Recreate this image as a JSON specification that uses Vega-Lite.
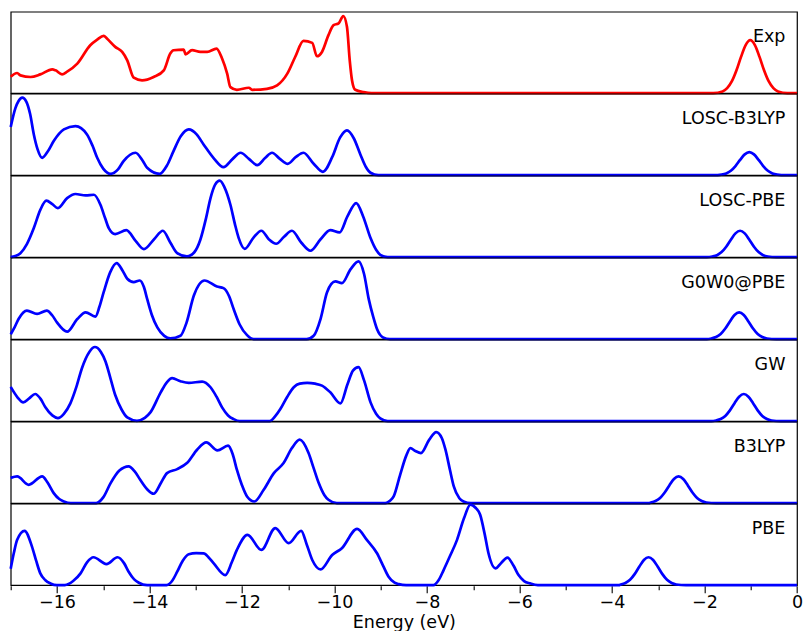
{
"$schema": "https://vega.github.io/schema/vega-lite/v6.json",
"padding": {"left": 4.7, "top": 9.7, "right": 0, "bottom": 0},
"bounds": "flush",
"config": {"view": {"stroke": "black", "strokeWidth": 1.2}, "font": "DejaVu Sans", "facet": {"spacing": 0}, "header": {"labelPadding": 0, "titlePadding": 0, "labels": false}},
"spacing": {"row": 0, "column": 0},
"data": {"values": [
{"m":"Exp","e":-17,"y":0.2},{"m":"Exp","e":-16.86,"y":0.247},{"m":"Exp","e":-16.79,"y":0.218},{"m":"Exp","e":-16.57,"y":0.198},{"m":"Exp","e":-16.36,"y":0.23},{"m":"Exp","e":-16.1,"y":0.292},{"m":"Exp","e":-16.03,"y":0.28},{"m":"Exp","e":-15.89,"y":0.23},{"m":"Exp","e":-15.78,"y":0.263},{"m":"Exp","e":-15.56,"y":0.362},{"m":"Exp","e":-15.28,"y":0.588},{"m":"Exp","e":-15.13,"y":0.658},{"m":"Exp","e":-14.99,"y":0.704},{"m":"Exp","e":-14.92,"y":0.671},{"m":"Exp","e":-14.74,"y":0.568},{"m":"Exp","e":-14.59,"y":0.506},{"m":"Exp","e":-14.48,"y":0.403},{"m":"Exp","e":-14.34,"y":0.189},{"m":"Exp","e":-14.16,"y":0.156},{"m":"Exp","e":-13.91,"y":0.198},{"m":"Exp","e":-13.69,"y":0.28},{"m":"Exp","e":-13.55,"y":0.486},{"m":"Exp","e":-13.48,"y":0.527},{"m":"Exp","e":-13.26,"y":0.535},{"m":"Exp","e":-13.22,"y":0.477},{"m":"Exp","e":-13.08,"y":0.527},{"m":"Exp","e":-12.9,"y":0.506},{"m":"Exp","e":-12.75,"y":0.506},{"m":"Exp","e":-12.55,"y":0.547},{"m":"Exp","e":-12.43,"y":0.424},{"m":"Exp","e":-12.32,"y":0.239},{"m":"Exp","e":-12.25,"y":0.074},{"m":"Exp","e":-12.11,"y":0.041},{"m":"Exp","e":-11.85,"y":0.066},{"m":"Exp","e":-11.78,"y":0.041},{"m":"Exp","e":-11.46,"y":0.053},{"m":"Exp","e":-11.24,"y":0.095},{"m":"Exp","e":-11.02,"y":0.239},{"m":"Exp","e":-10.85,"y":0.444},{"m":"Exp","e":-10.67,"y":0.642},{"m":"Exp","e":-10.48,"y":0.617},{"m":"Exp","e":-10.38,"y":0.453},{"m":"Exp","e":-10.27,"y":0.506},{"m":"Exp","e":-10.13,"y":0.712},{"m":"Exp","e":-10.02,"y":0.835},{"m":"Exp","e":-9.91,"y":0.856},{"m":"Exp","e":-9.81,"y":0.947},{"m":"Exp","e":-9.73,"y":0.815},{"m":"Exp","e":-9.67,"y":0.403},{"m":"Exp","e":-9.62,"y":0.156},{"m":"Exp","e":-9.55,"y":0.041},{"m":"Exp","e":-9.37,"y":0.012},{"m":"Exp","e":-9.2,"y":0},{"m":"Exp","e":-1.81,"y":0},{"m":"Exp","e":-1.61,"y":0.021},{"m":"Exp","e":-1.51,"y":0.061},{"m":"Exp","e":-1.41,"y":0.143},{"m":"Exp","e":-1.31,"y":0.278},{"m":"Exp","e":-1.21,"y":0.445},{"m":"Exp","e":-1.11,"y":0.59},{"m":"Exp","e":-1.01,"y":0.65},{"m":"Exp","e":-0.91,"y":0.59},{"m":"Exp","e":-0.81,"y":0.445},{"m":"Exp","e":-0.71,"y":0.278},{"m":"Exp","e":-0.61,"y":0.143},{"m":"Exp","e":-0.51,"y":0.061},{"m":"Exp","e":-0.41,"y":0.021},{"m":"Exp","e":-0.21,"y":0},{"m":"Exp","e":0,"y":0},
{"m":"LOSC-B3LYP","e":-17,"y":0.59},{"m":"LOSC-B3LYP","e":-16.9,"y":0.82},{"m":"LOSC-B3LYP","e":-16.83,"y":0.91},{"m":"LOSC-B3LYP","e":-16.75,"y":0.951},{"m":"LOSC-B3LYP","e":-16.66,"y":0.9},{"m":"LOSC-B3LYP","e":-16.58,"y":0.75},{"m":"LOSC-B3LYP","e":-16.5,"y":0.5},{"m":"LOSC-B3LYP","e":-16.42,"y":0.32},{"m":"LOSC-B3LYP","e":-16.32,"y":0.213},{"m":"LOSC-B3LYP","e":-16.2,"y":0.29},{"m":"LOSC-B3LYP","e":-16.07,"y":0.418},{"m":"LOSC-B3LYP","e":-15.85,"y":0.561},{"m":"LOSC-B3LYP","e":-15.6,"y":0.602},{"m":"LOSC-B3LYP","e":-15.35,"y":0.5},{"m":"LOSC-B3LYP","e":-15.23,"y":0.36},{"m":"LOSC-B3LYP","e":-15.13,"y":0.213},{"m":"LOSC-B3LYP","e":-15.0,"y":0.08},{"m":"LOSC-B3LYP","e":-14.84,"y":0.016},{"m":"LOSC-B3LYP","e":-14.68,"y":0.07},{"m":"LOSC-B3LYP","e":-14.56,"y":0.172},{"m":"LOSC-B3LYP","e":-14.3,"y":0.275},{"m":"LOSC-B3LYP","e":-14.15,"y":0.18},{"m":"LOSC-B3LYP","e":-14.05,"y":0.09},{"m":"LOSC-B3LYP","e":-13.78,"y":0.016},{"m":"LOSC-B3LYP","e":-13.62,"y":0.12},{"m":"LOSC-B3LYP","e":-13.48,"y":0.295},{"m":"LOSC-B3LYP","e":-13.32,"y":0.48},{"m":"LOSC-B3LYP","e":-13.15,"y":0.561},{"m":"LOSC-B3LYP","e":-12.98,"y":0.5},{"m":"LOSC-B3LYP","e":-12.83,"y":0.377},{"m":"LOSC-B3LYP","e":-12.6,"y":0.2},{"m":"LOSC-B3LYP","e":-12.4,"y":0.098},{"m":"LOSC-B3LYP","e":-12.2,"y":0.2},{"m":"LOSC-B3LYP","e":-12.03,"y":0.275},{"m":"LOSC-B3LYP","e":-11.85,"y":0.2},{"m":"LOSC-B3LYP","e":-11.67,"y":0.123},{"m":"LOSC-B3LYP","e":-11.5,"y":0.21},{"m":"LOSC-B3LYP","e":-11.35,"y":0.275},{"m":"LOSC-B3LYP","e":-11.18,"y":0.2},{"m":"LOSC-B3LYP","e":-11.01,"y":0.139},{"m":"LOSC-B3LYP","e":-10.84,"y":0.22},{"m":"LOSC-B3LYP","e":-10.67,"y":0.275},{"m":"LOSC-B3LYP","e":-10.45,"y":0.14},{"m":"LOSC-B3LYP","e":-10.25,"y":0.041},{"m":"LOSC-B3LYP","e":-10.05,"y":0.22},{"m":"LOSC-B3LYP","e":-9.88,"y":0.46},{"m":"LOSC-B3LYP","e":-9.73,"y":0.549},{"m":"LOSC-B3LYP","e":-9.58,"y":0.45},{"m":"LOSC-B3LYP","e":-9.44,"y":0.254},{"m":"LOSC-B3LYP","e":-9.32,"y":0.1},{"m":"LOSC-B3LYP","e":-9.22,"y":0.029},{"m":"LOSC-B3LYP","e":-9.05,"y":0},{"m":"LOSC-B3LYP","e":-1.8,"y":0},{"m":"LOSC-B3LYP","e":-1.63,"y":0.007},{"m":"LOSC-B3LYP","e":-1.53,"y":0.021},{"m":"LOSC-B3LYP","e":-1.43,"y":0.054},{"m":"LOSC-B3LYP","e":-1.33,"y":0.112},{"m":"LOSC-B3LYP","e":-1.23,"y":0.187},{"m":"LOSC-B3LYP","e":-1.13,"y":0.255},{"m":"LOSC-B3LYP","e":-1.03,"y":0.283},{"m":"LOSC-B3LYP","e":-0.93,"y":0.255},{"m":"LOSC-B3LYP","e":-0.83,"y":0.187},{"m":"LOSC-B3LYP","e":-0.73,"y":0.112},{"m":"LOSC-B3LYP","e":-0.63,"y":0.054},{"m":"LOSC-B3LYP","e":-0.53,"y":0.021},{"m":"LOSC-B3LYP","e":-0.43,"y":0.007},{"m":"LOSC-B3LYP","e":-0.25,"y":0},{"m":"LOSC-B3LYP","e":0,"y":0},
{"m":"LOSC-PBE","e":-17,"y":0},{"m":"LOSC-PBE","e":-16.9,"y":0.015},{"m":"LOSC-PBE","e":-16.79,"y":0.049},{"m":"LOSC-PBE","e":-16.65,"y":0.16},{"m":"LOSC-PBE","e":-16.5,"y":0.357},{"m":"LOSC-PBE","e":-16.36,"y":0.58},{"m":"LOSC-PBE","e":-16.23,"y":0.693},{"m":"LOSC-PBE","e":-16.1,"y":0.65},{"m":"LOSC-PBE","e":-15.98,"y":0.602},{"m":"LOSC-PBE","e":-15.78,"y":0.725},{"m":"LOSC-PBE","e":-15.6,"y":0.775},{"m":"LOSC-PBE","e":-15.38,"y":0.758},{"m":"LOSC-PBE","e":-15.2,"y":0.766},{"m":"LOSC-PBE","e":-15.06,"y":0.643},{"m":"LOSC-PBE","e":-14.96,"y":0.48},{"m":"LOSC-PBE","e":-14.88,"y":0.357},{"m":"LOSC-PBE","e":-14.74,"y":0.283},{"m":"LOSC-PBE","e":-14.5,"y":0.332},{"m":"LOSC-PBE","e":-14.3,"y":0.2},{"m":"LOSC-PBE","e":-14.12,"y":0.098},{"m":"LOSC-PBE","e":-13.9,"y":0.22},{"m":"LOSC-PBE","e":-13.71,"y":0.324},{"m":"LOSC-PBE","e":-13.55,"y":0.18},{"m":"LOSC-PBE","e":-13.4,"y":0.049},{"m":"LOSC-PBE","e":-13.19,"y":0.008},{"m":"LOSC-PBE","e":-13.03,"y":0.06},{"m":"LOSC-PBE","e":-12.9,"y":0.213},{"m":"LOSC-PBE","e":-12.78,"y":0.47},{"m":"LOSC-PBE","e":-12.68,"y":0.725},{"m":"LOSC-PBE","e":-12.58,"y":0.89},{"m":"LOSC-PBE","e":-12.48,"y":0.939},{"m":"LOSC-PBE","e":-12.38,"y":0.86},{"m":"LOSC-PBE","e":-12.25,"y":0.643},{"m":"LOSC-PBE","e":-12.15,"y":0.4},{"m":"LOSC-PBE","e":-12.07,"y":0.234},{"m":"LOSC-PBE","e":-11.94,"y":0.102},{"m":"LOSC-PBE","e":-11.75,"y":0.24},{"m":"LOSC-PBE","e":-11.58,"y":0.324},{"m":"LOSC-PBE","e":-11.42,"y":0.22},{"m":"LOSC-PBE","e":-11.26,"y":0.164},{"m":"LOSC-PBE","e":-11.09,"y":0.25},{"m":"LOSC-PBE","e":-10.92,"y":0.324},{"m":"LOSC-PBE","e":-10.72,"y":0.18},{"m":"LOSC-PBE","e":-10.52,"y":0.078},{"m":"LOSC-PBE","e":-10.3,"y":0.22},{"m":"LOSC-PBE","e":-10.09,"y":0.332},{"m":"LOSC-PBE","e":-9.89,"y":0.303},{"m":"LOSC-PBE","e":-9.72,"y":0.5},{"m":"LOSC-PBE","e":-9.53,"y":0.664},{"m":"LOSC-PBE","e":-9.38,"y":0.5},{"m":"LOSC-PBE","e":-9.22,"y":0.234},{"m":"LOSC-PBE","e":-9.1,"y":0.09},{"m":"LOSC-PBE","e":-9.01,"y":0.029},{"m":"LOSC-PBE","e":-8.85,"y":0},{"m":"LOSC-PBE","e":-1.95,"y":0},{"m":"LOSC-PBE","e":-1.83,"y":0.008},{"m":"LOSC-PBE","e":-1.73,"y":0.024},{"m":"LOSC-PBE","e":-1.63,"y":0.062},{"m":"LOSC-PBE","e":-1.53,"y":0.128},{"m":"LOSC-PBE","e":-1.43,"y":0.214},{"m":"LOSC-PBE","e":-1.33,"y":0.292},{"m":"LOSC-PBE","e":-1.23,"y":0.324},{"m":"LOSC-PBE","e":-1.13,"y":0.292},{"m":"LOSC-PBE","e":-1.03,"y":0.214},{"m":"LOSC-PBE","e":-0.93,"y":0.128},{"m":"LOSC-PBE","e":-0.83,"y":0.062},{"m":"LOSC-PBE","e":-0.73,"y":0.024},{"m":"LOSC-PBE","e":-0.63,"y":0.008},{"m":"LOSC-PBE","e":-0.45,"y":0},{"m":"LOSC-PBE","e":0,"y":0},
{"m":"G0W0@PBE","e":-17,"y":0.06},{"m":"G0W0@PBE","e":-16.92,"y":0.14},{"m":"G0W0@PBE","e":-16.83,"y":0.247},{"m":"G0W0@PBE","e":-16.65,"y":0.35},{"m":"G0W0@PBE","e":-16.43,"y":0.309},{"m":"G0W0@PBE","e":-16.22,"y":0.35},{"m":"G0W0@PBE","e":-16.1,"y":0.29},{"m":"G0W0@PBE","e":-16.0,"y":0.206},{"m":"G0W0@PBE","e":-15.78,"y":0.091},{"m":"G0W0@PBE","e":-15.56,"y":0.247},{"m":"G0W0@PBE","e":-15.38,"y":0.329},{"m":"G0W0@PBE","e":-15.17,"y":0.276},{"m":"G0W0@PBE","e":-15.08,"y":0.4},{"m":"G0W0@PBE","e":-14.99,"y":0.576},{"m":"G0W0@PBE","e":-14.85,"y":0.82},{"m":"G0W0@PBE","e":-14.71,"y":0.934},{"m":"G0W0@PBE","e":-14.58,"y":0.84},{"m":"G0W0@PBE","e":-14.48,"y":0.741},{"m":"G0W0@PBE","e":-14.34,"y":0.7},{"m":"G0W0@PBE","e":-14.21,"y":0.72},{"m":"G0W0@PBE","e":-14.12,"y":0.64},{"m":"G0W0@PBE","e":-14.05,"y":0.494},{"m":"G0W0@PBE","e":-13.95,"y":0.3},{"m":"G0W0@PBE","e":-13.83,"y":0.144},{"m":"G0W0@PBE","e":-13.68,"y":0.04},{"m":"G0W0@PBE","e":-13.55,"y":0.008},{"m":"G0W0@PBE","e":-13.33,"y":0.041},{"m":"G0W0@PBE","e":-13.2,"y":0.2},{"m":"G0W0@PBE","e":-13.04,"y":0.535},{"m":"G0W0@PBE","e":-12.81,"y":0.72},{"m":"G0W0@PBE","e":-12.54,"y":0.646},{"m":"G0W0@PBE","e":-12.4,"y":0.626},{"m":"G0W0@PBE","e":-12.28,"y":0.53},{"m":"G0W0@PBE","e":-12.18,"y":0.37},{"m":"G0W0@PBE","e":-12.05,"y":0.18},{"m":"G0W0@PBE","e":-11.89,"y":0.049},{"m":"G0W0@PBE","e":-11.75,"y":0},{"m":"G0W0@PBE","e":-10.6,"y":0},{"m":"G0W0@PBE","e":-10.45,"y":0.041},{"m":"G0W0@PBE","e":-10.3,"y":0.25},{"m":"G0W0@PBE","e":-10.16,"y":0.576},{"m":"G0W0@PBE","e":-9.98,"y":0.708},{"m":"G0W0@PBE","e":-9.84,"y":0.687},{"m":"G0W0@PBE","e":-9.65,"y":0.86},{"m":"G0W0@PBE","e":-9.48,"y":0.955},{"m":"G0W0@PBE","e":-9.36,"y":0.8},{"m":"G0W0@PBE","e":-9.26,"y":0.494},{"m":"G0W0@PBE","e":-9.16,"y":0.27},{"m":"G0W0@PBE","e":-9.08,"y":0.123},{"m":"G0W0@PBE","e":-8.95,"y":0.02},{"m":"G0W0@PBE","e":-8.8,"y":0},{"m":"G0W0@PBE","e":-1.95,"y":0},{"m":"G0W0@PBE","e":-1.85,"y":0.008},{"m":"G0W0@PBE","e":-1.75,"y":0.025},{"m":"G0W0@PBE","e":-1.65,"y":0.063},{"m":"G0W0@PBE","e":-1.55,"y":0.13},{"m":"G0W0@PBE","e":-1.45,"y":0.217},{"m":"G0W0@PBE","e":-1.35,"y":0.297},{"m":"G0W0@PBE","e":-1.25,"y":0.329},{"m":"G0W0@PBE","e":-1.15,"y":0.297},{"m":"G0W0@PBE","e":-1.05,"y":0.217},{"m":"G0W0@PBE","e":-0.95,"y":0.13},{"m":"G0W0@PBE","e":-0.85,"y":0.063},{"m":"G0W0@PBE","e":-0.75,"y":0.025},{"m":"G0W0@PBE","e":-0.65,"y":0.008},{"m":"G0W0@PBE","e":-0.45,"y":0},{"m":"G0W0@PBE","e":0,"y":0},
{"m":"GW","e":-17,"y":0.42},{"m":"GW","e":-16.85,"y":0.29},{"m":"GW","e":-16.73,"y":0.23},{"m":"GW","e":-16.6,"y":0.28},{"m":"GW","e":-16.47,"y":0.333},{"m":"GW","e":-16.35,"y":0.27},{"m":"GW","e":-16.25,"y":0.169},{"m":"GW","e":-16.1,"y":0.07},{"m":"GW","e":-15.98,"y":0.037},{"m":"GW","e":-15.85,"y":0.09},{"m":"GW","e":-15.71,"y":0.218},{"m":"GW","e":-15.58,"y":0.42},{"m":"GW","e":-15.46,"y":0.65},{"m":"GW","e":-15.3,"y":0.85},{"m":"GW","e":-15.18,"y":0.91},{"m":"GW","e":-15.05,"y":0.85},{"m":"GW","e":-14.95,"y":0.733},{"m":"GW","e":-14.84,"y":0.52},{"m":"GW","e":-14.74,"y":0.321},{"m":"GW","e":-14.6,"y":0.14},{"m":"GW","e":-14.48,"y":0.045},{"m":"GW","e":-14.27,"y":0.004},{"m":"GW","e":-14.1,"y":0.04},{"m":"GW","e":-13.98,"y":0.107},{"m":"GW","e":-13.76,"y":0.35},{"m":"GW","e":-13.62,"y":0.48},{"m":"GW","e":-13.51,"y":0.527},{"m":"GW","e":-13.33,"y":0.49},{"m":"GW","e":-13.15,"y":0.469},{"m":"GW","e":-12.86,"y":0.486},{"m":"GW","e":-12.68,"y":0.416},{"m":"GW","e":-12.55,"y":0.3},{"m":"GW","e":-12.43,"y":0.169},{"m":"GW","e":-12.3,"y":0.07},{"m":"GW","e":-12.18,"y":0.025},{"m":"GW","e":-12.05,"y":0},{"m":"GW","e":-11.4,"y":0},{"m":"GW","e":-11.28,"y":0.06},{"m":"GW","e":-11.17,"y":0.148},{"m":"GW","e":-11.02,"y":0.3},{"m":"GW","e":-10.88,"y":0.416},{"m":"GW","e":-10.75,"y":0.46},{"m":"GW","e":-10.59,"y":0.469},{"m":"GW","e":-10.42,"y":0.46},{"m":"GW","e":-10.27,"y":0.436},{"m":"GW","e":-10.09,"y":0.354},{"m":"GW","e":-9.87,"y":0.218},{"m":"GW","e":-9.72,"y":0.45},{"m":"GW","e":-9.6,"y":0.62},{"m":"GW","e":-9.48,"y":0.663},{"m":"GW","e":-9.36,"y":0.5},{"m":"GW","e":-9.22,"y":0.23},{"m":"GW","e":-9.1,"y":0.09},{"m":"GW","e":-9.01,"y":0.033},{"m":"GW","e":-8.85,"y":0},{"m":"GW","e":-1.85,"y":0},{"m":"GW","e":-1.75,"y":0.008},{"m":"GW","e":-1.65,"y":0.025},{"m":"GW","e":-1.55,"y":0.064},{"m":"GW","e":-1.45,"y":0.132},{"m":"GW","e":-1.35,"y":0.22},{"m":"GW","e":-1.25,"y":0.3},{"m":"GW","e":-1.15,"y":0.333},{"m":"GW","e":-1.05,"y":0.3},{"m":"GW","e":-0.95,"y":0.22},{"m":"GW","e":-0.85,"y":0.132},{"m":"GW","e":-0.75,"y":0.064},{"m":"GW","e":-0.65,"y":0.025},{"m":"GW","e":-0.55,"y":0.008},{"m":"GW","e":-0.35,"y":0},{"m":"GW","e":0,"y":0},
{"m":"B3LYP","e":-17,"y":0.31},{"m":"B3LYP","e":-16.86,"y":0.328},{"m":"B3LYP","e":-16.61,"y":0.225},{"m":"B3LYP","e":-16.32,"y":0.328},{"m":"B3LYP","e":-16.2,"y":0.25},{"m":"B3LYP","e":-16.07,"y":0.123},{"m":"B3LYP","e":-15.95,"y":0.05},{"m":"B3LYP","e":-15.85,"y":0.02},{"m":"B3LYP","e":-15.7,"y":0},{"m":"B3LYP","e":-15.15,"y":0},{"m":"B3LYP","e":-15.0,"y":0.07},{"m":"B3LYP","e":-14.84,"y":0.246},{"m":"B3LYP","e":-14.65,"y":0.4},{"m":"B3LYP","e":-14.45,"y":0.451},{"m":"B3LYP","e":-14.32,"y":0.39},{"m":"B3LYP","e":-14.2,"y":0.287},{"m":"B3LYP","e":-14.05,"y":0.17},{"m":"B3LYP","e":-13.91,"y":0.115},{"m":"B3LYP","e":-13.75,"y":0.25},{"m":"B3LYP","e":-13.62,"y":0.369},{"m":"B3LYP","e":-13.4,"y":0.418},{"m":"B3LYP","e":-13.19,"y":0.492},{"m":"B3LYP","e":-12.97,"y":0.656},{"m":"B3LYP","e":-12.77,"y":0.746},{"m":"B3LYP","e":-12.53,"y":0.648},{"m":"B3LYP","e":-12.3,"y":0.705},{"m":"B3LYP","e":-12.2,"y":0.6},{"m":"B3LYP","e":-12.11,"y":0.41},{"m":"B3LYP","e":-12.0,"y":0.22},{"m":"B3LYP","e":-11.89,"y":0.082},{"m":"B3LYP","e":-11.73,"y":0.02},{"m":"B3LYP","e":-11.53,"y":0.164},{"m":"B3LYP","e":-11.31,"y":0.369},{"m":"B3LYP","e":-11.1,"y":0.492},{"m":"B3LYP","e":-10.92,"y":0.676},{"m":"B3LYP","e":-10.75,"y":0.779},{"m":"B3LYP","e":-10.56,"y":0.615},{"m":"B3LYP","e":-10.45,"y":0.43},{"m":"B3LYP","e":-10.34,"y":0.246},{"m":"B3LYP","e":-10.22,"y":0.1},{"m":"B3LYP","e":-10.13,"y":0.041},{"m":"B3LYP","e":-9.95,"y":0},{"m":"B3LYP","e":-8.9,"y":0},{"m":"B3LYP","e":-8.8,"y":0.03},{"m":"B3LYP","e":-8.72,"y":0.082},{"m":"B3LYP","e":-8.58,"y":0.348},{"m":"B3LYP","e":-8.45,"y":0.58},{"m":"B3LYP","e":-8.36,"y":0.676},{"m":"B3LYP","e":-8.25,"y":0.64},{"m":"B3LYP","e":-8.13,"y":0.615},{"m":"B3LYP","e":-7.95,"y":0.78},{"m":"B3LYP","e":-7.8,"y":0.873},{"m":"B3LYP","e":-7.68,"y":0.8},{"m":"B3LYP","e":-7.6,"y":0.656},{"m":"B3LYP","e":-7.5,"y":0.4},{"m":"B3LYP","e":-7.42,"y":0.205},{"m":"B3LYP","e":-7.3,"y":0.06},{"m":"B3LYP","e":-7.21,"y":0.02},{"m":"B3LYP","e":-7.05,"y":0},{"m":"B3LYP","e":-3.2,"y":0},{"m":"B3LYP","e":-3.16,"y":0.008},{"m":"B3LYP","e":-3.06,"y":0.025},{"m":"B3LYP","e":-2.96,"y":0.063},{"m":"B3LYP","e":-2.86,"y":0.13},{"m":"B3LYP","e":-2.76,"y":0.217},{"m":"B3LYP","e":-2.66,"y":0.296},{"m":"B3LYP","e":-2.56,"y":0.328},{"m":"B3LYP","e":-2.46,"y":0.296},{"m":"B3LYP","e":-2.36,"y":0.217},{"m":"B3LYP","e":-2.26,"y":0.13},{"m":"B3LYP","e":-2.16,"y":0.063},{"m":"B3LYP","e":-2.06,"y":0.025},{"m":"B3LYP","e":-1.96,"y":0.008},{"m":"B3LYP","e":-1.75,"y":0},{"m":"B3LYP","e":0,"y":0},
{"m":"PBE","e":-17,"y":0.2},{"m":"PBE","e":-16.93,"y":0.4},{"m":"PBE","e":-16.86,"y":0.556},{"m":"PBE","e":-16.7,"y":0.667},{"m":"PBE","e":-16.54,"y":0.473},{"m":"PBE","e":-16.45,"y":0.3},{"m":"PBE","e":-16.36,"y":0.144},{"m":"PBE","e":-16.25,"y":0.06},{"m":"PBE","e":-16.14,"y":0.021},{"m":"PBE","e":-16.0,"y":0},{"m":"PBE","e":-15.83,"y":0},{"m":"PBE","e":-15.65,"y":0.05},{"m":"PBE","e":-15.49,"y":0.144},{"m":"PBE","e":-15.35,"y":0.28},{"m":"PBE","e":-15.21,"y":0.342},{"m":"PBE","e":-14.93,"y":0.259},{"m":"PBE","e":-14.69,"y":0.342},{"m":"PBE","e":-14.55,"y":0.27},{"m":"PBE","e":-14.45,"y":0.165},{"m":"PBE","e":-14.33,"y":0.07},{"m":"PBE","e":-14.23,"y":0.029},{"m":"PBE","e":-14.05,"y":0},{"m":"PBE","e":-13.63,"y":0},{"m":"PBE","e":-13.5,"y":0.06},{"m":"PBE","e":-13.4,"y":0.165},{"m":"PBE","e":-13.28,"y":0.3},{"m":"PBE","e":-13.15,"y":0.379},{"m":"PBE","e":-12.99,"y":0.392},{"m":"PBE","e":-12.83,"y":0.391},{"m":"PBE","e":-12.72,"y":0.34},{"m":"PBE","e":-12.61,"y":0.267},{"m":"PBE","e":-12.36,"y":0.123},{"m":"PBE","e":-12.22,"y":0.28},{"m":"PBE","e":-12.11,"y":0.432},{"m":"PBE","e":-11.88,"y":0.617},{"m":"PBE","e":-11.58,"y":0.432},{"m":"PBE","e":-11.28,"y":0.7},{"m":"PBE","e":-10.99,"y":0.516},{"m":"PBE","e":-10.72,"y":0.667},{"m":"PBE","e":-10.6,"y":0.5},{"m":"PBE","e":-10.48,"y":0.309},{"m":"PBE","e":-10.3,"y":0.193},{"m":"PBE","e":-10.05,"y":0.37},{"m":"PBE","e":-9.84,"y":0.453},{"m":"PBE","e":-9.51,"y":0.691},{"m":"PBE","e":-9.3,"y":0.556},{"m":"PBE","e":-9.08,"y":0.391},{"m":"PBE","e":-8.95,"y":0.24},{"m":"PBE","e":-8.83,"y":0.103},{"m":"PBE","e":-8.7,"y":0.03},{"m":"PBE","e":-8.61,"y":0.012},{"m":"PBE","e":-8.45,"y":0},{"m":"PBE","e":-7.86,"y":0},{"m":"PBE","e":-7.75,"y":0.06},{"m":"PBE","e":-7.64,"y":0.185},{"m":"PBE","e":-7.5,"y":0.36},{"m":"PBE","e":-7.35,"y":0.556},{"m":"PBE","e":-7.2,"y":0.82},{"m":"PBE","e":-7.06,"y":0.988},{"m":"PBE","e":-6.95,"y":0.95},{"m":"PBE","e":-6.85,"y":0.864},{"m":"PBE","e":-6.75,"y":0.62},{"m":"PBE","e":-6.67,"y":0.391},{"m":"PBE","e":-6.52,"y":0.206},{"m":"PBE","e":-6.4,"y":0.27},{"m":"PBE","e":-6.26,"y":0.337},{"m":"PBE","e":-6.13,"y":0.24},{"m":"PBE","e":-6.02,"y":0.123},{"m":"PBE","e":-5.9,"y":0.05},{"m":"PBE","e":-5.77,"y":0.021},{"m":"PBE","e":-5.6,"y":0},{"m":"PBE","e":-3.85,"y":0},{"m":"PBE","e":-3.81,"y":0.008},{"m":"PBE","e":-3.71,"y":0.026},{"m":"PBE","e":-3.61,"y":0.065},{"m":"PBE","e":-3.51,"y":0.135},{"m":"PBE","e":-3.41,"y":0.226},{"m":"PBE","e":-3.31,"y":0.308},{"m":"PBE","e":-3.21,"y":0.342},{"m":"PBE","e":-3.11,"y":0.308},{"m":"PBE","e":-3.01,"y":0.226},{"m":"PBE","e":-2.91,"y":0.135},{"m":"PBE","e":-2.81,"y":0.065},{"m":"PBE","e":-2.71,"y":0.026},{"m":"PBE","e":-2.61,"y":0.008},{"m":"PBE","e":-2.4,"y":0},{"m":"PBE","e":0,"y":0}
]},
"facet": {"row": {"field": "m", "type": "nominal", "sort": ["Exp","LOSC-B3LYP","LOSC-PBE","G0W0@PBE","GW","B3LYP","PBE"], "header": {"labels": false, "title": null, "labelPadding": 0, "titlePadding": 0}, "title": null}},
"spec": {
  "width": 786.3,
  "height": 81.43,
  "layer": [
    {"mark": {"type": "line", "interpolate": "monotone", "strokeWidth": 2.7},
     "encoding": {
       "x": {"field": "e", "type": "quantitative", "scale": {"domain": [-17, 0], "nice": false, "zero": false},
             "axis": {"values": [-17,-16,-15,-14,-13,-12,-11,-10,-9,-8,-7,-6,-5,-4,-3,-2,-1,0],
                      "labelExpr": "datum.value % 2 == 0 ? datum.label : ''",
                      "tickSize": {"condition": {"test": "datum.value % 2 == 0", "value": 7}, "value": 4},
                      "tickColor": "black", "tickWidth": 1.1, "domain": false, "grid": false,
                      "labelFont": "DejaVu Sans", "labelFontSize": 17.5, "labelColor": "black", "labelPadding": 1,
                      "labelFlush": false, "labelOverlap": false,
                      "title": "Energy (eV)", "titleFont": "DejaVu Sans", "titleFontSize": 17.5, "titleFontWeight": "normal", "titleColor": "black", "titlePadding": 2}},
       "y": {"field": "y", "type": "quantitative", "scale": {"domain": [0, 1], "nice": false}, "axis": null},
       "color": {"field": "m", "type": "nominal", "scale": {"domain": ["Exp","LOSC-B3LYP","LOSC-PBE","G0W0@PBE","GW","B3LYP","PBE"], "range": ["#ff0000","#0000ff","#0000ff","#0000ff","#0000ff","#0000ff","#0000ff"]}, "legend": null}
     }},
    {"transform": [{"aggregate": [{"op": "count", "as": "n"}], "groupby": ["m"]}],
     "mark": {"type": "text", "align": "right", "baseline": "middle", "fontSize": 17.5, "font": "DejaVu Sans", "color": "black"},
     "encoding": {"x": {"datum": -0.25}, "y": {"datum": 0.69}, "text": {"field": "m"}}}
  ]
}
}
